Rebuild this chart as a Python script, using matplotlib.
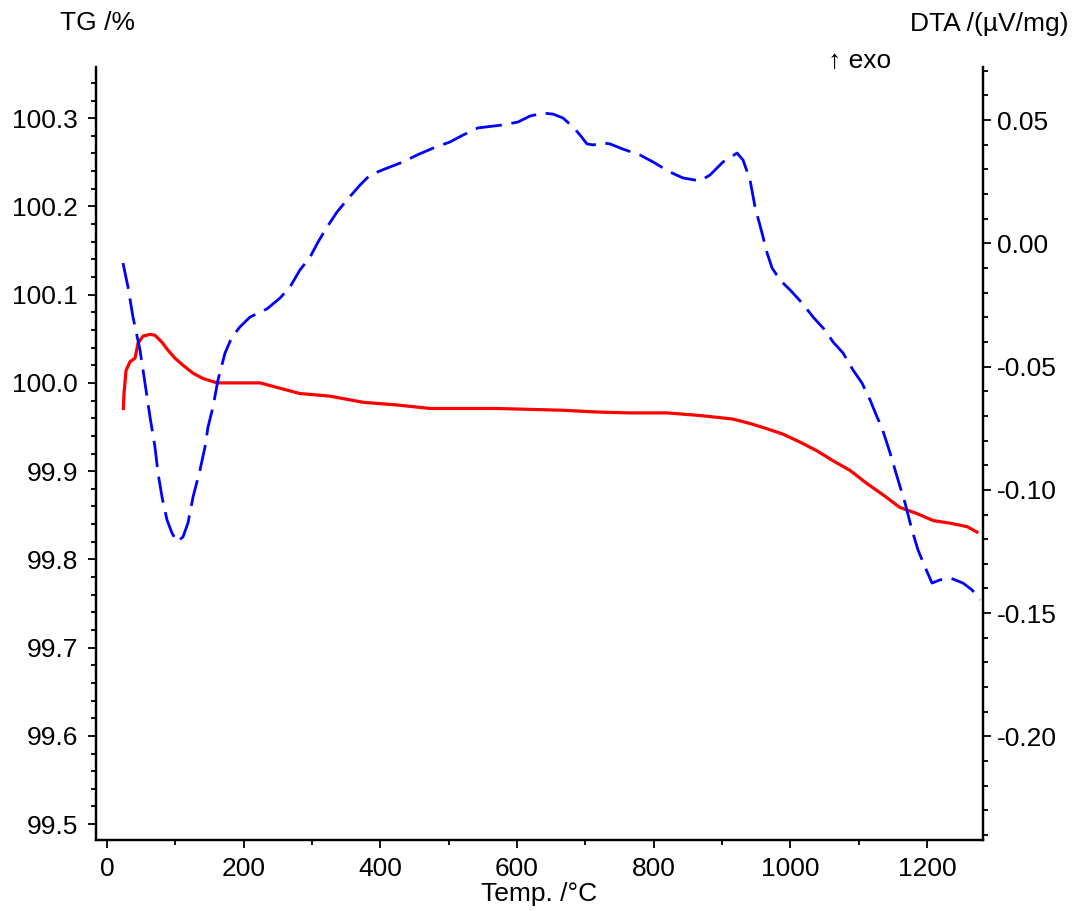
import matplotlib
matplotlib.use("Agg")
import matplotlib.pyplot as plt
from matplotlib.ticker import MultipleLocator, FormatStrFormatter

# TG curve (left axis)
tg_temp = [23.9, 24.9, 27.8, 33.7, 41.0, 45.4, 52.7, 62.9, 70.2, 80.5, 89.3,
           99.5, 111.2, 125.9, 140.5, 161.0, 199.0, 224.0, 253.0, 282.0, 326.0,
           375.0, 424.0, 473.0, 521.0, 571.0, 619.0, 667.0, 717.0, 765.0,
           820.0, 868.0, 893.0, 916.0, 941.0, 966.0, 989.0, 1014.0, 1039.0,
           1062.0, 1087.0, 1112.0, 1136.0, 1160.0, 1185.0, 1209.0, 1234.0,
           1259.0, 1273.0]
tg_vals = [99.971, 99.988, 100.014, 100.024, 100.028, 100.045, 100.053,
           100.055, 100.054, 100.046, 100.037, 100.028, 100.020, 100.011,
           100.005, 100.000, 100.000, 100.000, 99.994, 99.988, 99.985,
           99.978, 99.975, 99.971, 99.971, 99.971, 99.970, 99.969, 99.967,
           99.966, 99.966, 99.963, 99.961, 99.959, 99.954, 99.948, 99.942,
           99.933, 99.923, 99.912, 99.901, 99.886, 99.873, 99.859, 99.852,
           99.844, 99.841, 99.837, 99.831]

# DTA curve (right axis)
dta_temp = [23.4, 30.7, 38.0, 48.3, 55.6, 62.9, 70.2, 74.6, 80.5, 87.8, 95.1,
            102.4, 111.2, 118.5, 125.9, 136.1, 143.4, 147.8, 155.1, 162.4,
            172.7, 182.9, 194.6, 209.3, 234.1, 253.2, 267.8, 282.4, 297.1,
            308.8, 322.0, 336.6, 351.2, 370.2, 384.9, 409.8, 433.2, 453.7,
            477.1, 502.0, 521.0, 542.9, 579.5, 601.5, 619.0, 638.0, 652.7,
            667.3, 682.0, 692.2, 702.4, 711.2, 725.9, 736.1, 755.1, 780.0,
            799.0, 823.9, 842.9, 867.8, 882.4, 901.5, 922.0, 930.7, 941.0,
            948.3, 958.5, 965.9, 973.2, 984.9, 999.5, 1017.1, 1033.2, 1050.7,
            1062.4, 1077.1, 1091.7, 1104.9, 1116.6, 1126.8, 1134.1, 1145.9,
            1157.6, 1167.8, 1178.0, 1186.8, 1197.1, 1207.3, 1219.0, 1233.7,
            1252.7, 1265.9, 1277.6]
dta_vals = [-0.0080, -0.0177, -0.0299, -0.0433, -0.0567, -0.0704, -0.0826,
            -0.0931, -0.1029, -0.1122, -0.1175, -0.1211, -0.1191, -0.1134,
            -0.1029, -0.0919, -0.0826, -0.0745, -0.0664, -0.0554, -0.0445,
            -0.0380, -0.0339, -0.0299, -0.0266, -0.0222, -0.0177, -0.0108,
            -0.0056, 0.0005, 0.0066, 0.0127, 0.0176, 0.0236, 0.0277, 0.0305,
            0.0330, 0.0358, 0.0386, 0.0411, 0.0439, 0.0468, 0.0480, 0.0492,
            0.0516, 0.0528, 0.0524, 0.0508, 0.0472, 0.0439, 0.0403, 0.0399,
            0.0407, 0.0403, 0.0382, 0.0358, 0.0330, 0.0289, 0.0265, 0.0253,
            0.0277, 0.0330, 0.0366, 0.0338, 0.0257, 0.0147, 0.0042, -0.0039,
            -0.0100, -0.0149, -0.0189, -0.0242, -0.0299, -0.0352, -0.0400,
            -0.0445, -0.0514, -0.0567, -0.0635, -0.0704, -0.0749, -0.0850,
            -0.0960, -0.1053, -0.1163, -0.1244, -0.1313, -0.1378, -0.1365,
            -0.1357, -0.1378, -0.1406, -0.1446]

plt.rcParams["font.family"] = ["Liberation Sans", "DejaVu Sans"]
plt.rcParams["axes.unicode_minus"] = False

W, H = 1076, 911
fig = plt.figure(figsize=(W / 100, H / 100), dpi=100)
ax = fig.add_axes([96 / W, 1 - 840 / H, (983 - 96) / W, (840 - 67) / H])
ax2 = ax.twinx()

ax.plot(tg_temp, tg_vals, color="#ff0000", lw=2.3, zorder=3)
ax2.plot(dta_temp, dta_vals, color="#0000ff", lw=2.0, linestyle=(0, (9.5, 3.5)))

ax.set_xlim(-16.1, 1281.9)
ax.set_ylim(99.482, 100.358)
ax2.set_ylim(-0.242, 0.0715)

ax.xaxis.set_major_locator(MultipleLocator(200))
ax.xaxis.set_minor_locator(MultipleLocator(100))
ax.yaxis.set_major_locator(MultipleLocator(0.1))
ax.yaxis.set_minor_locator(MultipleLocator(0.02))
ax.yaxis.set_major_formatter(FormatStrFormatter("%.1f"))
ax2.yaxis.set_major_locator(MultipleLocator(0.05))
ax2.yaxis.set_minor_locator(MultipleLocator(0.01))
ax2.yaxis.set_major_formatter(FormatStrFormatter("%.2f"))

for a in (ax, ax2):
    for side in ("left", "right", "bottom"):
        a.spines[side].set_linewidth(1.6)
    a.spines["top"].set_visible(False)
    a.tick_params(which="major", direction="out", length=6, width=1.3,
                  labelsize=19)
    a.tick_params(which="minor", direction="out", length=3.5, width=1.3)
ax.tick_params(axis="y", which="major", pad=7)
ax.tick_params(axis="x", which="major", pad=6)
ax2.tick_params(axis="y", which="major", pad=4)

ax.set_xlabel("Temp. /°C", fontsize=19, labelpad=1)

fig.text(60 / W, 1 - 30 / H, "TG /%", fontsize=19, ha="left", va="baseline")
fig.text(1068 / W, 1 - 31 / H, "DTA /(µV/mg)", fontsize=19, ha="right",
         va="baseline")
fig.text(828 / W, 1 - 68 / H, "↑ exo", fontsize=19, ha="left", va="baseline")

fig.savefig("out.png", dpi=100)
